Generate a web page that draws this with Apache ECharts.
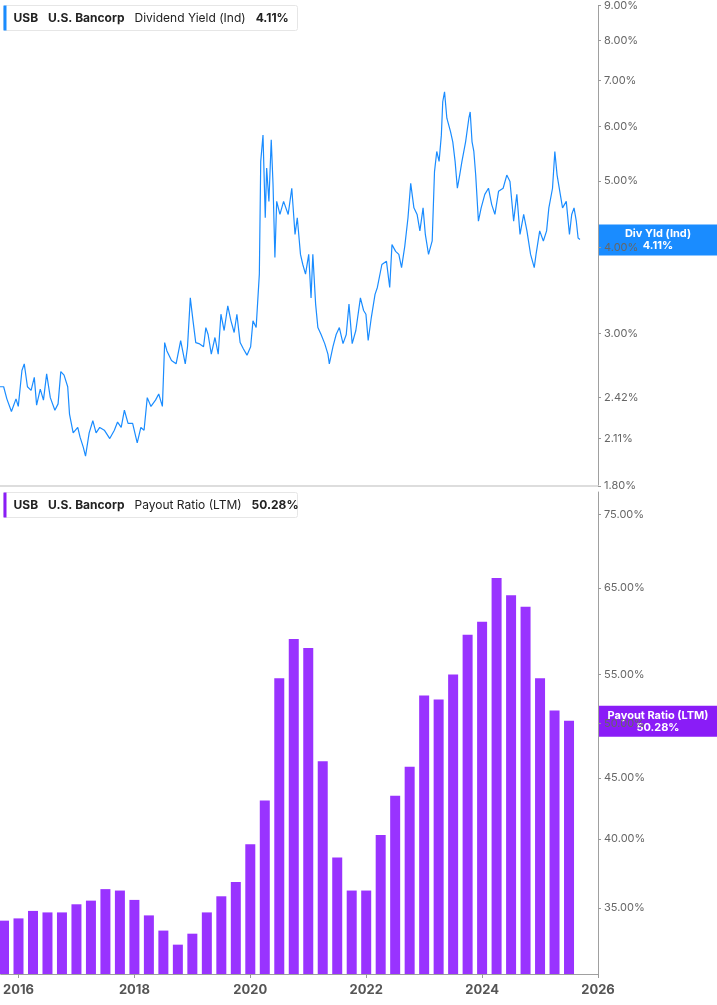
<!DOCTYPE html>
<html><head><meta charset="utf-8">
<script src="https://cdn.jsdelivr.net/npm/echarts@6/dist/echarts.min.js"></script>
<style>html,body{margin:0;padding:0;background:#fff}#c{width:717px;height:1005px}</style>
</head><body><div id="c"></div>
<script>
const yieldYears=[2015.693,2015.756,2015.811,2015.890,2015.969,2016.008,2016.071,2016.111,2016.166,2016.229,2016.284,2016.324,2016.387,2016.442,2016.497,2016.560,2016.639,2016.694,2016.741,2016.797,2016.860,2016.891,2016.954,2017.033,2017.073,2017.128,2017.167,2017.230,2017.293,2017.349,2017.412,2017.491,2017.585,2017.664,2017.719,2017.782,2017.837,2017.900,2017.979,2018.058,2018.121,2018.176,2018.231,2018.295,2018.373,2018.429,2018.492,2018.531,2018.570,2018.649,2018.728,2018.807,2018.886,2018.925,2018.973,2019.020,2019.067,2019.122,2019.201,2019.241,2019.280,2019.335,2019.398,2019.454,2019.501,2019.556,2019.619,2019.674,2019.729,2019.776,2019.832,2019.887,2019.950,2020.013,2020.053,2020.108,2020.163,2020.187,2020.226,2020.265,2020.289,2020.328,2020.368,2020.399,2020.431,2020.462,2020.518,2020.581,2020.660,2020.722,2020.778,2020.817,2020.872,2020.912,2020.959,2021.014,2021.054,2021.085,2021.133,2021.172,2021.227,2021.290,2021.345,2021.369,2021.432,2021.487,2021.542,2021.605,2021.661,2021.708,2021.763,2021.826,2021.905,2021.960,2022.000,2022.039,2022.094,2022.157,2022.197,2022.275,2022.354,2022.410,2022.449,2022.512,2022.567,2022.614,2022.670,2022.725,2022.772,2022.827,2022.882,2022.930,2022.985,2023.024,2023.079,2023.142,2023.182,2023.221,2023.261,2023.300,2023.324,2023.355,2023.395,2023.458,2023.497,2023.537,2023.576,2023.616,2023.655,2023.718,2023.774,2023.797,2023.829,2023.860,2023.892,2023.939,2023.986,2024.049,2024.112,2024.168,2024.223,2024.286,2024.365,2024.428,2024.483,2024.546,2024.601,2024.656,2024.719,2024.775,2024.838,2024.901,2024.932,2024.995,2025.058,2025.114,2025.153,2025.216,2025.256,2025.295,2025.350,2025.389,2025.453,2025.508,2025.547,2025.587,2025.626,2025.657,2025.689];
const yieldValues=[2.51,2.51,2.41,2.31,2.41,2.35,2.65,2.71,2.51,2.48,2.59,2.36,2.49,2.40,2.62,2.42,2.32,2.37,2.64,2.61,2.51,2.29,2.15,2.19,2.12,2.05,1.99,2.15,2.24,2.15,2.19,2.17,2.11,2.17,2.23,2.19,2.32,2.22,2.22,2.08,2.19,2.17,2.42,2.35,2.40,2.45,2.35,2.91,2.83,2.74,2.71,2.93,2.71,2.87,3.38,3.13,2.91,2.90,2.87,3.06,2.99,2.80,2.96,2.80,3.20,3.03,3.29,3.13,3.01,3.20,2.91,2.85,2.79,2.87,3.13,3.06,3.66,5.34,5.83,4.42,5.22,4.67,5.74,4.94,3.87,4.67,4.47,4.67,4.47,4.88,4.18,4.42,3.91,3.78,3.66,3.91,3.38,3.91,3.31,3.06,2.99,2.90,2.80,2.71,2.87,2.99,3.06,2.90,2.99,3.31,2.90,3.03,3.38,3.24,3.20,2.93,3.17,3.42,3.50,3.78,3.82,3.50,4.04,3.95,3.91,3.74,4.02,4.42,4.96,4.57,4.47,4.23,4.57,4.18,3.91,4.09,5.16,5.52,5.34,5.83,6.52,6.74,6.17,5.90,5.70,5.34,4.88,5.10,5.34,5.70,6.17,6.30,5.70,5.52,5.10,4.37,4.57,4.78,4.88,4.62,4.47,4.83,4.88,5.10,4.99,4.37,4.78,4.18,4.47,4.23,3.91,3.74,3.91,4.23,4.09,4.23,4.57,4.88,5.52,5.10,4.78,4.57,4.67,4.18,4.47,4.57,4.37,4.13,4.11];
const payoutQuarters=["2015-Q3","2015-Q4","2016-Q1","2016-Q2","2016-Q3","2016-Q4","2017-Q1","2017-Q2","2017-Q3","2017-Q4","2018-Q1","2018-Q2","2018-Q3","2018-Q4","2019-Q1","2019-Q2","2019-Q3","2019-Q4","2020-Q1","2020-Q2","2020-Q3","2020-Q4","2021-Q1","2021-Q2","2021-Q3","2021-Q4","2022-Q1","2022-Q2","2022-Q3","2022-Q4","2023-Q1","2023-Q2","2023-Q3","2023-Q4","2024-Q1","2024-Q2","2024-Q3","2024-Q4","2025-Q1","2025-Q2"];
const payoutValues=[34.15,34.3,34.8,34.7,34.7,35.25,35.5,36.3,36.2,35.55,34.5,33.5,32.6,33.3,34.7,35.8,36.8,39.6,43.1,54.6,58.9,57.9,46.5,38.6,36.2,36.2,40.3,43.5,46.0,52.8,52.4,55.0,59.4,60.9,66.3,64.1,62.7,54.6,51.3,50.28];
const yieldTicks=[1.8,2.11,2.42,3,4,5,6,7,8,9];
const payoutTicks=[35,40,45,50,55,65,75];
const yearTicks=[2016,2018,2020,2022,2024,2026];

const L=Math.log;
const qYear=s=>{const [y,q]=s.split('-Q');return +y+(+q)/4;};
const chart=echarts.init(document.getElementById('c'),null,{renderer:'canvas'});
const yAxisBase=(ticks,min,max,gi)=>({type:'value',gridIndex:gi,position:'right',min:L(min),max:L(max),
  axisLine:{show:true,lineStyle:{color:'#a0a0a0',width:1}},splitLine:{show:false},
  axisTick:{show:true,length:3,customValues:ticks.map(L),lineStyle:{color:'#999'}},
  axisLabel:{customValues:ticks.map(L),color:'#666',fontSize:11,fontFamily:'Inter',margin:6,
    formatter:v=>Math.exp(v).toFixed(2)+'%'}});
chart.setOption({
  animation:false,
  grid:[{left:0,right:119,top:3,height:483},{left:0,right:119,top:492,height:482}],
  xAxis:[
    {type:'value',gridIndex:0,min:2015.693,max:2026,axisLine:{show:true,lineStyle:{color:'#ddd',width:2}},axisTick:{show:false},axisLabel:{show:false},splitLine:{show:false}},
    {type:'value',gridIndex:1,min:2015.693,max:2026,axisLine:{show:true,lineStyle:{color:'#a0a0a0'}},
      axisTick:{show:true,length:4,customValues:yearTicks,lineStyle:{color:'#999'}},
      axisLabel:{customValues:yearTicks,color:'#555',fontSize:13,fontWeight:'bold',fontFamily:'Inter',margin:10,formatter:v=>String(v)},splitLine:{show:false}}
  ],
  yAxis:[yAxisBase(yieldTicks,1.8,9,0),yAxisBase(payoutTicks,30.8,78.3,1)],
  series:[
    {type:'line',xAxisIndex:0,yAxisIndex:0,symbol:'none',lineStyle:{color:'#1a8cff',width:1.2},
     data:yieldYears.map((x,i)=>[x,L(yieldValues[i])])},
    {type:'bar',xAxisIndex:1,yAxisIndex:1,barWidth:10,itemStyle:{color:'#9933ff'},
     data:payoutQuarters.map((q,i)=>[qYear(q),L(payoutValues[i])])}
  ]
});
const y1=chart.convertToPixel({gridIndex:0},[2020,L(yieldValues[yieldValues.length-1])])[1];
const y2=chart.convertToPixel({gridIndex:1},[2020,L(payoutValues[payoutValues.length-1])])[1];
const legend=(top,color,name,val)=>({type:'group',left:3,top:top,children:[
  {type:'rect',shape:{x:0,y:0,width:294,height:25,r:2},style:{fill:'#fff',stroke:'#e6e6e6',lineWidth:1}},
  {type:'rect',shape:{x:0,y:0,width:3,height:25},style:{fill:color}},
  {type:'text',x:10,y:12.5,style:{text:'{b|USB}   {b|U.S. Bancorp}   {n|'+name+'}   {b|'+val+'}',verticalAlign:'middle',
    rich:{b:{fontWeight:'bold',fontSize:12,fill:'#222',fontFamily:'Inter'},n:{fontSize:12,fill:'#222',fontFamily:'Inter'}}}}
]});
const tag=(y,color,l1,l2)=>({type:'group',left:598,top:y-15,children:[
  {type:'rect',shape:{x:0,y:0,width:119,height:31},style:{fill:color}},
  {type:'text',x:60,y:15.5,style:{text:l1+'\n'+l2,align:'center',verticalAlign:'middle',fill:'#fff',fontWeight:'bold',fontSize:11,lineHeight:12,fontFamily:'Inter'}}
]});
chart.setOption({graphic:[
  legend(5,'#1a8cff','Dividend Yield (Ind)',yieldValues[yieldValues.length-1].toFixed(2)+'%'),
  legend(492,'#8a1cf7','Payout Ratio (LTM)',payoutValues[payoutValues.length-1].toFixed(2)+'%'),
  tag(y1,'#1a8cff','Div Yld (Ind)',yieldValues[yieldValues.length-1].toFixed(2)+'%'),
  tag(y2,'#8a1cf7','Payout Ratio (LTM)',payoutValues[payoutValues.length-1].toFixed(2)+'%')
]});
</script></body></html>
